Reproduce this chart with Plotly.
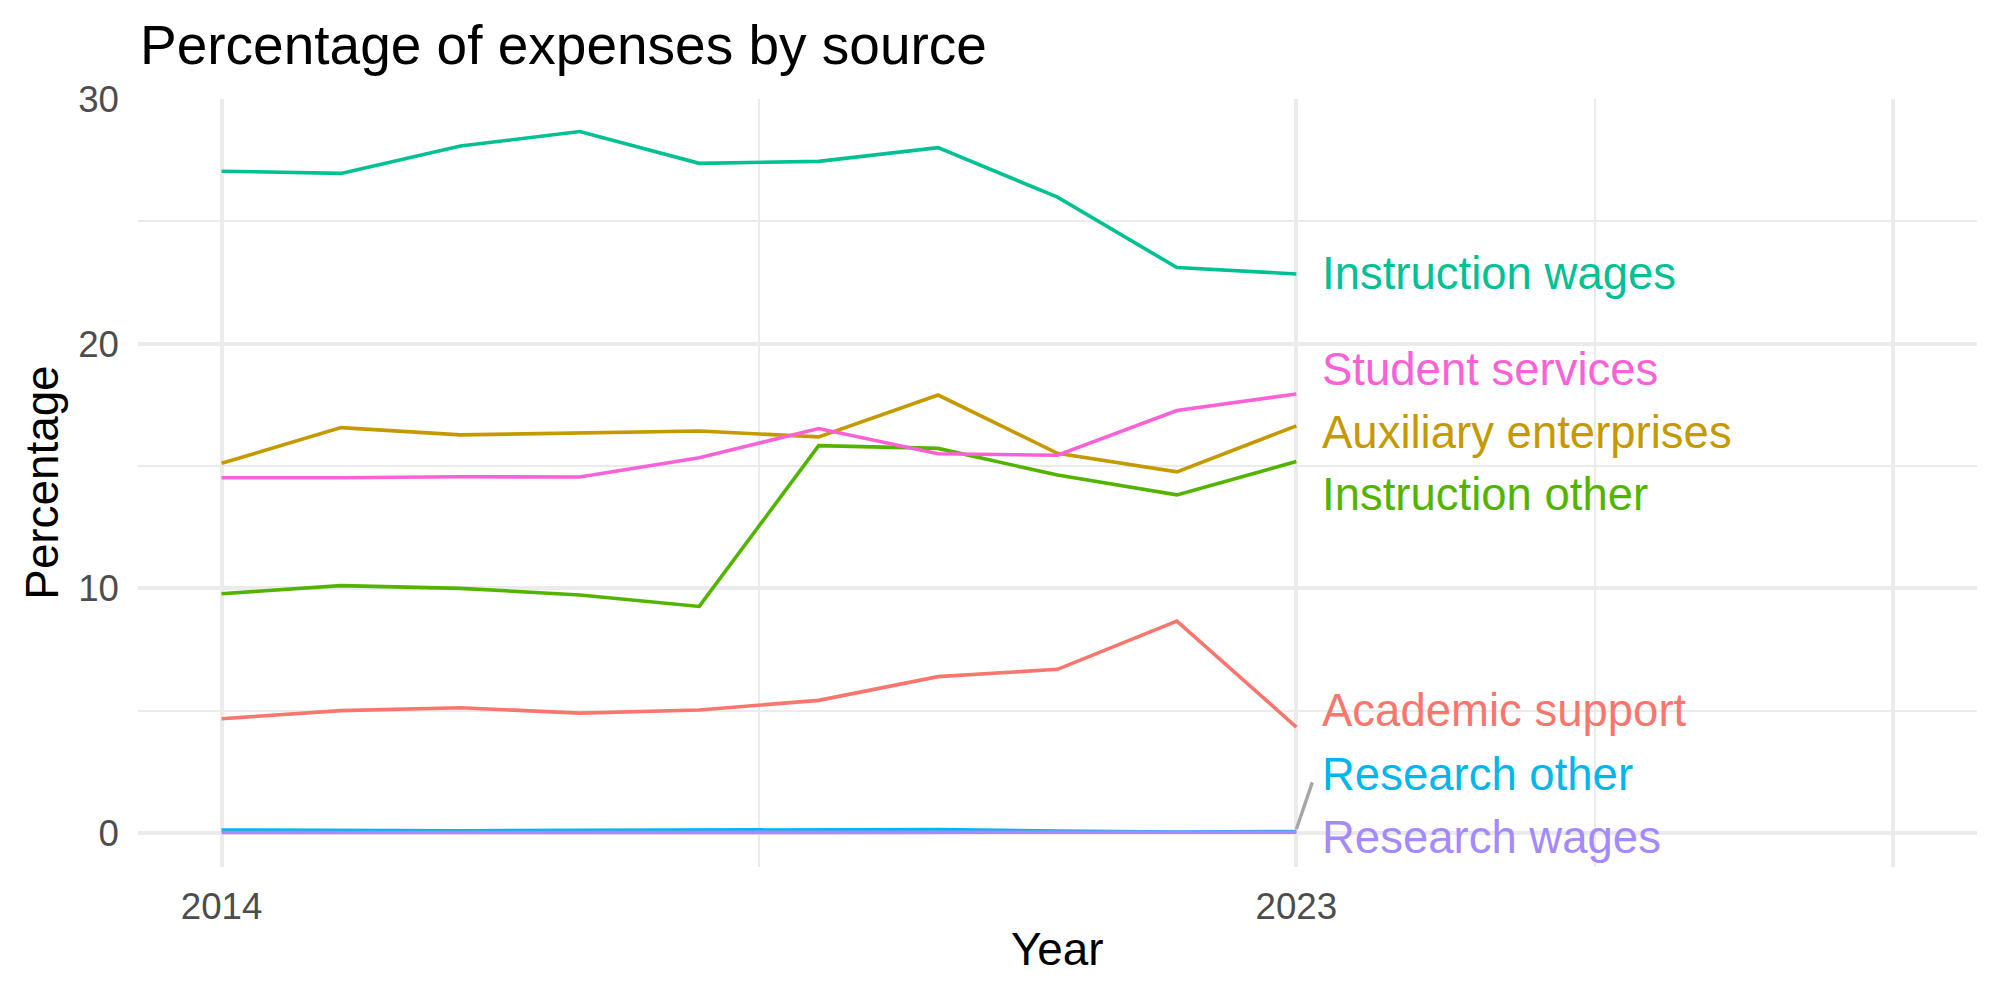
import plotly.graph_objects as go

years = [2014, 2015, 2016, 2017, 2018, 2019, 2020, 2021, 2022, 2023]

academic_support = [4.67, 5.00, 5.12, 4.90, 5.03, 5.42, 6.39, 6.69, 8.66, 4.33]
auxiliary_enterprises = [15.11, 16.57, 16.27, 16.36, 16.43, 16.19, 17.90, 15.52, 14.76, 16.64]
instruction_other = [9.78, 10.11, 10.00, 9.73, 9.26, 15.83, 15.72, 14.63, 13.82, 15.18]
instruction_wages = [27.05, 26.96, 28.08, 28.67, 27.37, 27.45, 28.01, 25.99, 23.11, 22.85]
research_other = [0.12, 0.10, 0.09, 0.11, 0.12, 0.15, 0.14, 0.08, 0.04, 0.06]
research_wages = [0.02, 0.02, 0.02, 0.02, 0.02, 0.02, 0.02, 0.02, 0.03, 0.03]
student_services = [14.52, 14.52, 14.56, 14.55, 15.34, 16.53, 15.50, 15.44, 17.27, 17.94]

series_names = ["Academic support", "Auxiliary enterprises", "Instruction other",
                "Instruction wages", "Research other", "Research wages", "Student services"]
series_values = [academic_support, auxiliary_enterprises, instruction_other,
                 instruction_wages, research_other, research_wages, student_services]
series_colors = ["#F8766D", "#C49A00", "#53B400", "#00C094", "#00B6EB", "#A58AFF", "#FB61D7"]

# repelled label positions (data units)
label_x = 2023.2
label_y = [5.02, 16.38, 13.83, 22.85, 2.41, -0.19, 18.94]

# repel segment for "Research other"
segment_x = [2023.0, 2023.134]
segment_y = [0.15, 2.07]

x_tickvals = [2014, 2023, 2028]
x_ticktext = ["2014", "2023", ""]
x_minor = [2018.5, 2025.5]
y_tickvals = [0, 10, 20, 30]
y_minor = [5, 15, 25]

FONT = "Liberation Sans, Arial, sans-serif"
GRID = "#EBEBEB"

fig = go.Figure()
for name, vals, col in zip(series_names, series_values, series_colors):
    fig.add_trace(go.Scatter(x=years, y=vals, mode="lines", name=name,
                             line=dict(color=col, width=3.6), showlegend=False))

fig.add_trace(go.Scatter(x=segment_x, y=segment_y, mode="lines",
                         line=dict(color="#A6A6A6", width=3.4), showlegend=False))

for name, ly, col in zip(series_names, label_y, series_colors):
    fig.add_annotation(x=label_x, y=ly, text=name, showarrow=False,
                       xanchor="left", yanchor="middle",
                       font=dict(family=FONT, size=45.5, color=col))

# axis titles
fig.add_annotation(x=0.5, y=(1000 - 950 - 132.7) / (1000 - 99.3 - 132.7), xref="paper", yref="paper",
                   text="Year", showarrow=False, xanchor="center", yanchor="middle",
                   font=dict(family=FONT, size=45.8, color="black"))
fig.add_annotation(x=(42 - 138.3) / (1976.7 - 138.3), y=0.5, xref="paper", yref="paper",
                   text="Percentage", showarrow=False, textangle=-90,
                   xanchor="center", yanchor="middle",
                   font=dict(family=FONT, size=45.8, color="black"))

fig.update_layout(
    width=2000, height=1000,
    margin=dict(l=138.3, r=23.3, t=99.3, b=132.7, autoexpand=False),
    paper_bgcolor="white", plot_bgcolor="white",
    title=dict(text="Percentage of expenses by source", x=140 / 2000, xref="container",
               xanchor="left", y=1 - 45 / 1000, yref="container", yanchor="middle",
               font=dict(family=FONT, size=55, color="black")),
    xaxis=dict(range=[2013.3, 2028.7], tickvals=x_tickvals, ticktext=x_ticktext,
               showgrid=True, gridcolor=GRID, gridwidth=4, zeroline=False,
               showline=False, ticks="", ticklabelstandoff=14,
               tickfont=dict(family=FONT, size=36.7, color="#4D4D4D"),
               minor=dict(tickvals=x_minor, showgrid=True, gridcolor=GRID, gridwidth=2, ticks="")),
    yaxis=dict(range=[-1.39, 30], tickvals=y_tickvals,
               showgrid=True, gridcolor=GRID, gridwidth=4, zeroline=False,
               showline=False, ticks="", ticklabelstandoff=18,
               tickfont=dict(family=FONT, size=36.7, color="#4D4D4D"),
               minor=dict(tickvals=y_minor, showgrid=True, gridcolor=GRID, gridwidth=2, ticks="")),
)

fig.write_html("out.html")
